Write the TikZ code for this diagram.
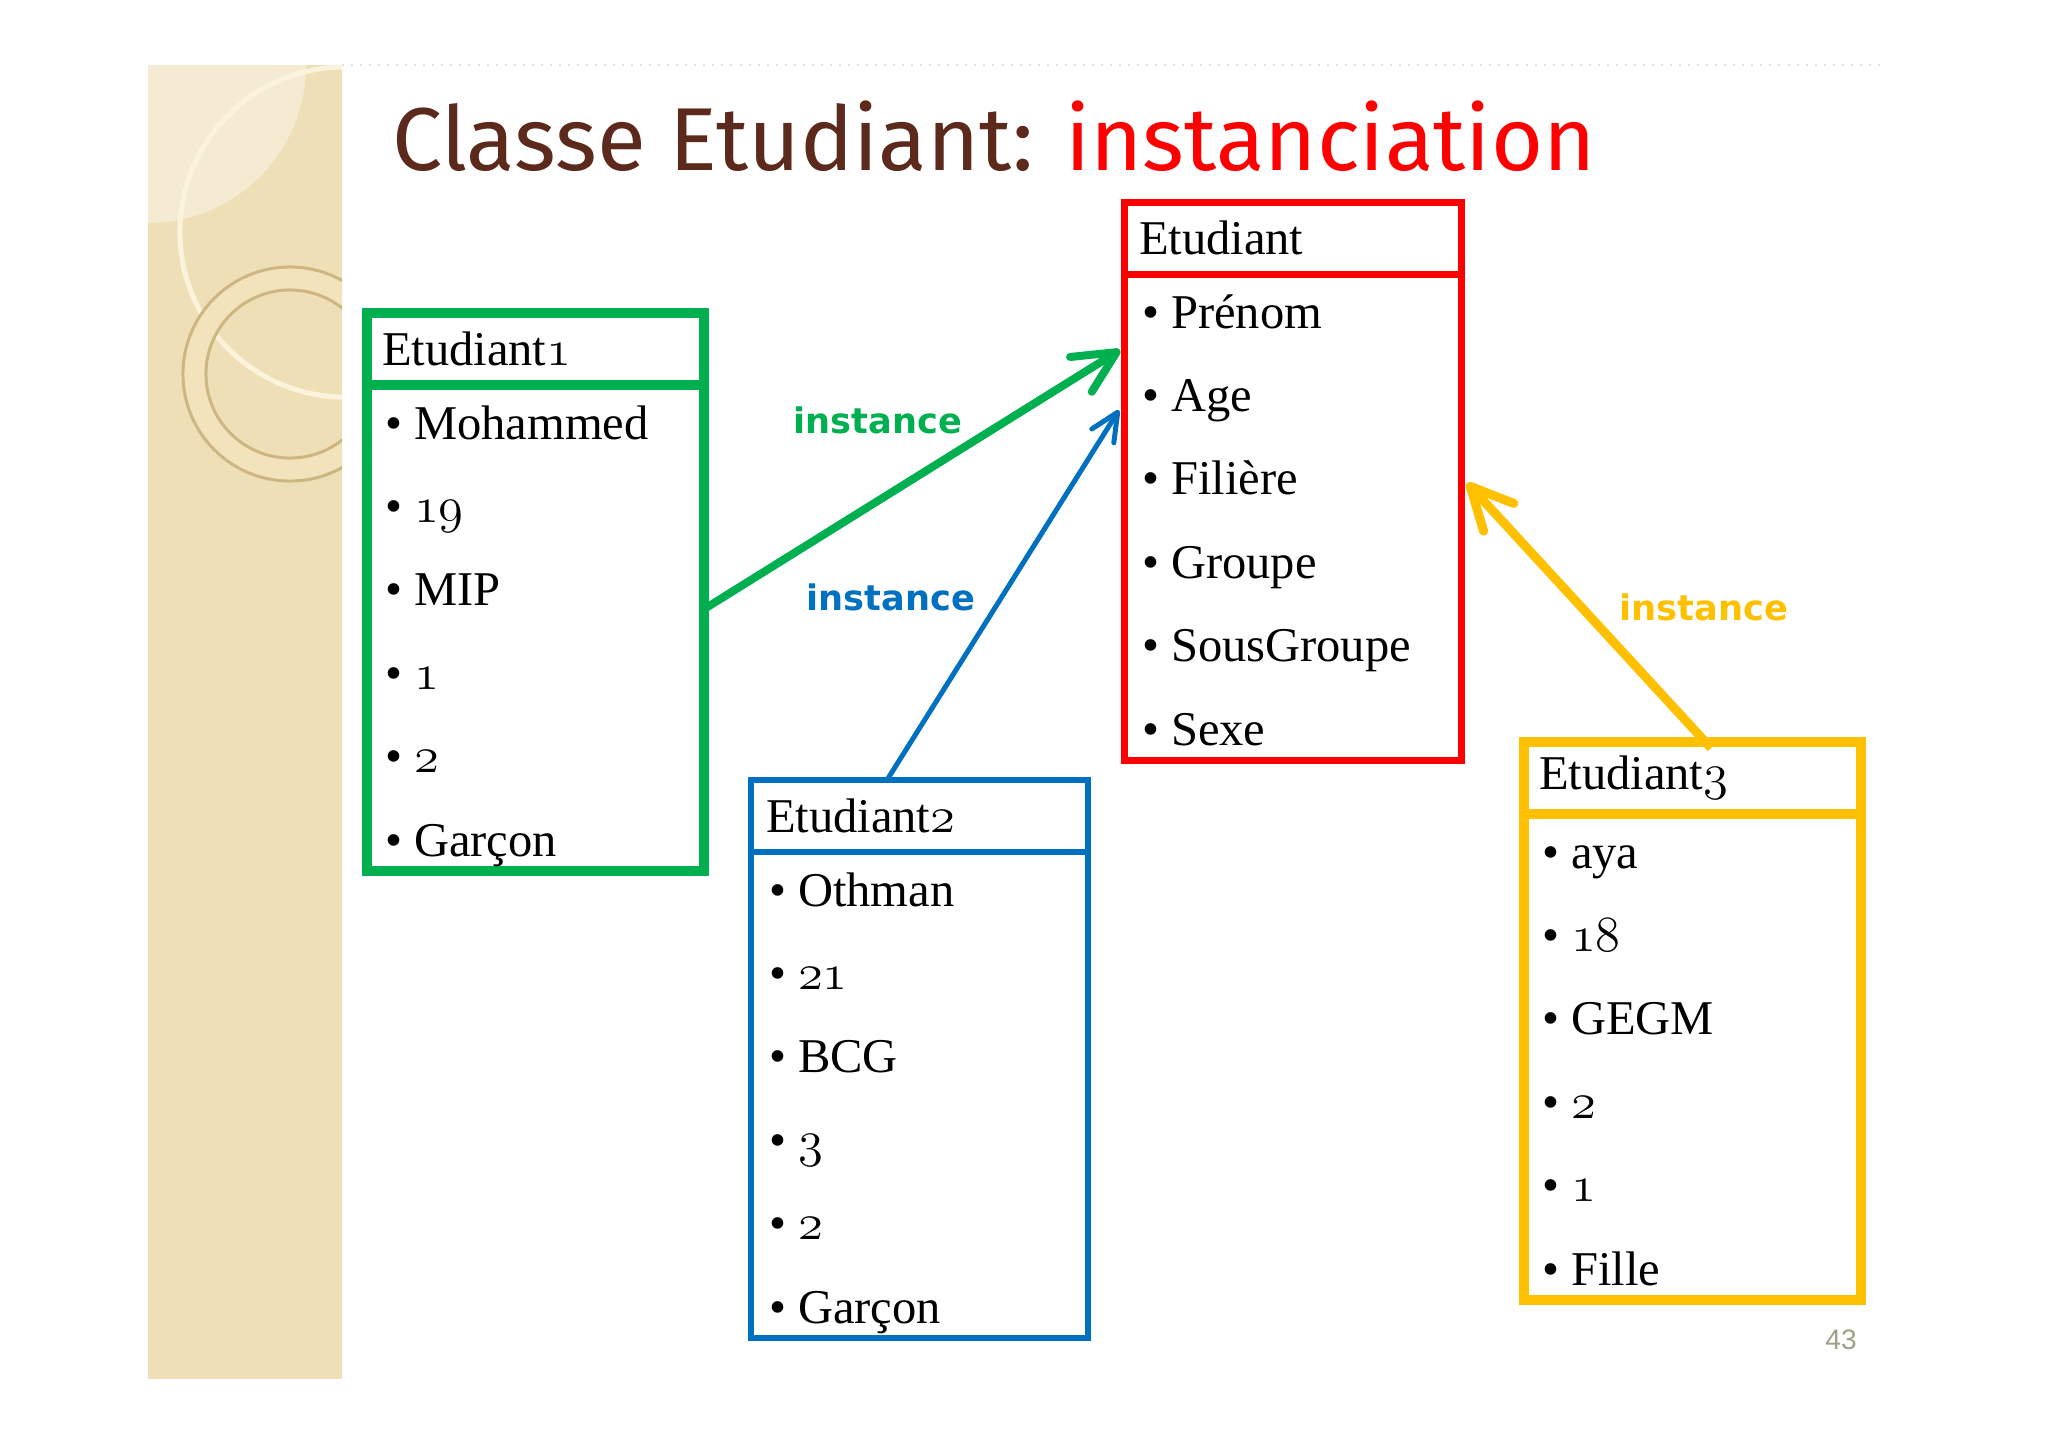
\documentclass[tikz,border=0pt]{standalone}
\usepackage{fontspec}
\usepackage{xcolor}
\usepackage{tikz}
\usetikzlibrary{positioning, arrows.meta}

\setmainfont{Liberation Serif}
\newfontfamily\titlefont{Fira Sans}
\newfontfamily\labelfont{DejaVu Sans}
\newfontfamily\pagefont{Liberation Sans}

\definecolor{vert}{HTML}{00B050}
\definecolor{rouge}{HTML}{FF0000}
\definecolor{bleu}{HTML}{0070C0}
\definecolor{jaune}{HTML}{FFC000}
\definecolor{brun}{HTML}{5C2A1C}
\definecolor{sable}{HTML}{EFDFB6}
\definecolor{sableclair}{HTML}{F5EBD2}
\definecolor{creme}{HTML}{FBF3DC}
\definecolor{anneau}{HTML}{F3E3BC}
\definecolor{bordanneau}{HTML}{CDB682}
\definecolor{gris}{HTML}{A0A086}

\newcommand{\osf}[1]{{\fontencoding{OML}\fontfamily{cmm}\fontseries{m}\fontshape{it}%
    \fontsize{15.5}{17}\selectfont #1}}

\begin{document}
\begin{tikzpicture} [x = 0.01cm, y = -0.01cm, outer sep = 0pt,
        hdr/.style = {draw = #1, rectangle, anchor = north west,
            minimum width = 3.37cm, minimum height = 0.72cm, text width = 3.07cm,
            inner xsep = 0.15cm, align = left, font = \fontsize{13.8}{15}\selectfont},
        body/.style = {draw = #1, rectangle, minimum width = 3.37cm,
            minimum height = 4.86cm},
        item/.style = {anchor = base west, inner sep = 0pt, font = \fontsize{13.8}{15}\selectfont},
        lbl/.style = {text = #1, font = \labelfont\bfseries\fontsize{10}{11}\selectfont},
        inst/.style = {draw = #1, -{Straight Barb[length = 4.2mm, width = 4.1mm, round]}}]

    \useasboundingbox (0,0) rectangle (2048,1447);

    \fill [sable] (148,65) rectangle (342,1379);
    \begin{scope}
        \clip (148,65) rectangle (342,1379);
        \fill [sableclair] (148,65) circle (1.58cm);
        \draw [creme, line width = 0.5mm] (345,232) circle (1.65cm);
        \fill [anneau, even odd rule] (290,374) circle (1.07cm) (290,374) circle (0.84cm);
        \draw [bordanneau, line width = 0.3mm] (290,374) circle (1.07cm) (290,374) circle (0.84cm);
    \end{scope}
    \draw [black!12, dotted, line width = 0.2mm] (342,65) -- (1880,65);

    \node (titre) [anchor = base west, inner sep = 0pt, font = \titlefont\fontsize{25.4}{28}\selectfont]
        at (392,170) {\textcolor{brun}{Classe Etudiant:} \textcolor{rouge}{instanciation}};

    \node (h0) [hdr = rouge, line width = 0.7mm] at (1124,202) {Etudiant};
    \node (b0) [body = rouge, line width = 0.7mm, below = 0pt of h0] {};
    \foreach \t [count = \i] in {Prénom, Age, Filière, Groupe, SousGroupe, Sexe}
        \node (b0-\i) [item] at ([shift = {(18,{83.4*\i-29.4})}] b0.north west) {\textbullet\ \t};

    \node (h1) [hdr = vert, line width = 1mm] at (367,313) {Etudiant\osf{1}};
    \node (b1) [body = vert, line width = 1mm, below = 0pt of h1] {};
    \foreach \t [count = \i] in {Mohammed, \osf{19}, MIP, \osf{1}, \osf{2}, Garçon}
        \node (b1-\i) [item] at ([shift = {(18,{83.4*\i-29.4})}] b1.north west) {\textbullet\ \t};

    \node (h2) [hdr = bleu, line width = 0.6mm] at (751,780) {Etudiant\osf{2}};
    \node (b2) [body = bleu, line width = 0.6mm, below = 0pt of h2] {};
    \foreach \t [count = \i] in {Othman, \osf{21}, BCG, \osf{3}, \osf{2}, Garçon}
        \node (b2-\i) [item] at ([shift = {(18,{83.4*\i-29.4})}] b2.north west) {\textbullet\ \t};

    \node (h3) [hdr = jaune, line width = 1mm] at (1524,742) {Etudiant\osf{3}};
    \node (b3) [body = jaune, line width = 1mm, below = 0pt of h3] {};
    \foreach \t [count = \i] in {aya, \osf{18}, GEGM, \osf{2}, \osf{1}, Fille}
        \node (b3-\i) [item] at ([shift = {(18,{83.4*\i-29.4})}] b3.north west) {\textbullet\ \t};

    \draw [inst = vert, line width = 0.8mm]
        ([shift = {(0,224)}] b1.north east) -- ([shift = {(-4,76)}] b0.north west);
    \draw [inst = bleu, line width = 0.5mm, -{Straight Barb[length = 2.8mm, width = 2.6mm, round]}]
        ([shift = {(136,0)}] h2.north west) -- ([shift = {(-5,136)}] b0.north west);
    \draw [inst = jaune, line width = 0.9mm]
        ([shift = {(187,6)}] h3.north west) -- ([shift = {(6,209)}] b0.north east);

    \node (l1) [lbl = vert] at (878,420) {instance};
    \node (l2) [lbl = bleu] at (891,597) {instance};
    \node (l3) [lbl = jaune] at (1704,607) {instance};

    \node (page) [text = gris, font = \pagefont\fontsize{8}{9}\selectfont] at (1841,1340) {43};

\end{tikzpicture}
\end{document}
